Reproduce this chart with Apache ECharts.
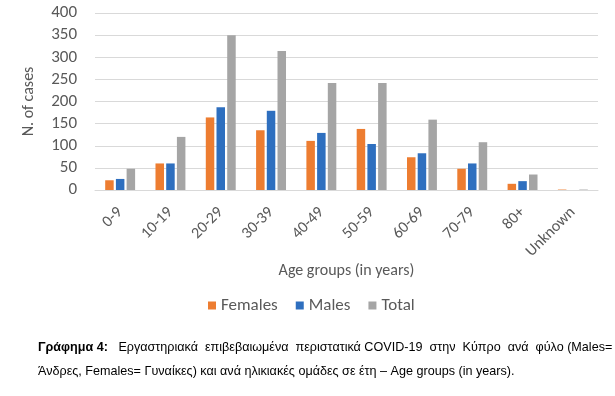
<!DOCTYPE html>
<html>
<head>
<meta charset="utf-8">
<script src="https://cdn.jsdelivr.net/npm/echarts@6/dist/echarts.min.js"></script>
<style>
  html, body { margin: 0; padding: 0; background: #fff; }
  #chart { width: 615px; height: 396px; }
</style>
</head>
<body>
<div id="chart"></div>
<script>
// age groups and case counts
var ageGroups = ['0-9', '10-19', '20-29', '30-39', '40-49', '50-59', '60-69', '70-79', '80+', 'Unknown'];
var females = [22, 60, 164, 135, 111, 138, 74, 48, 14, 1];
var males = [25, 60, 187, 179, 129, 104, 83, 60, 20, 0];
var total = [48, 120, 350, 314, 242, 242, 159, 108, 35, 1];
var yTicks = [0, 50, 100, 150, 200, 250, 300, 350, 400];

var chart = echarts.init(document.getElementById('chart'));

var txtFont = 'Calibri, Carlito, "Open Sans", sans-serif';
var capFont = '"Liberation Sans", Arial, sans-serif';

chart.setOption({
  animation: false,
  grid: { left: 95, right: 17, top: 13, bottom: 206 },
  legend: {
    data: ['Females', 'Males', 'Total'],
    top: 292,
    left: 203,
    itemWidth: 8,
    itemHeight: 8,
    itemGap: 18,
    icon: 'rect',
    textStyle: { fontSize: 17, color: '#595959', fontFamily: txtFont }
  },
  xAxis: {
    type: 'category',
    data: ageGroups,
    name: 'Age groups (in years)',
    nameLocation: 'middle',
    nameGap: 63,
    nameTextStyle: { fontSize: 16, color: '#595959', fontFamily: txtFont },
    axisTick: { show: false },
    axisLine: { lineStyle: { color: '#d9d9d9' } },
    axisLabel: { rotate: 45, fontSize: 16, color: '#595959', margin: 20, fontFamily: txtFont }
  },
  yAxis: {
    type: 'value',
    min: yTicks[0],
    max: yTicks[yTicks.length - 1],
    interval: 50,
    name: 'N. of cases',
    nameLocation: 'middle',
    nameGap: 58,
    nameTextStyle: { fontSize: 16, color: '#595959', fontFamily: txtFont },
    axisLabel: { fontSize: 17, color: '#595959', margin: 18, fontFamily: txtFont },
    splitLine: { lineStyle: { color: '#d9d9d9' } }
  },
  series: [
    { name: 'Females', type: 'bar', data: females, barWidth: 8.5, barGap: '26%', itemStyle: { color: '#ED7D31' } },
    { name: 'Males', type: 'bar', data: males, barWidth: 8.5, barGap: '26%', itemStyle: { color: '#2E6FBF' } },
    { name: 'Total', type: 'bar', data: total, barWidth: 8.5, barGap: '26%', itemStyle: { color: '#A5A5A5' } }
  ],
  graphic: [
    {
      type: 'text', left: 38, top: 341,
      style: {
        text: '{b|Γράφημα 4:}   Εργαστηριακά  επιβεβαιωμένα  περιστατικά COVID-19  στην  Κύπρο  ανά  φύλο (Males=',
        fontSize: 12.6, fontFamily: capFont, fill: '#000',
        rich: { b: { fontWeight: 'bold', fontSize: 12.6, fontFamily: capFont } }
      }
    },
    {
      type: 'text', left: 38, top: 365,
      style: {
        text: 'Άνδρες, Females= Γυναίκες) και ανά ηλικιακές ομάδες σε έτη – Age groups (in years).',
        fontSize: 12.6, fontFamily: capFont, fill: '#000'
      }
    }
  ]
});
</script>
</body>
</html>
